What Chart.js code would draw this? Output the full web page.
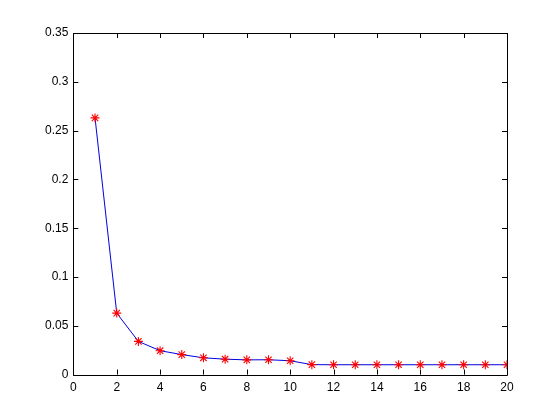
<!DOCTYPE html>
<html>
<head>
<meta charset="utf-8">
<script src="https://cdn.jsdelivr.net/npm/chart.js@4/dist/chart.umd.min.js"></script>
<style>
  html, body { margin: 0; padding: 0; background: #fff; }
  #wrap { width: 560px; height: 420px; }
</style>
</head>
<body>
<div id="wrap"><canvas id="myChart" width="560" height="420"></canvas></div>
<script>
// data
var xValues = [1, 2, 3, 4, 5, 6, 7, 8, 9, 10, 11, 12, 13, 14, 15, 16, 17, 18, 19, 20];
var yValues = [0.263, 0.063, 0.034, 0.0245, 0.0205, 0.0172, 0.0158, 0.0151, 0.0152, 0.0142,
               0.0102, 0.0101, 0.0101, 0.0101, 0.0101, 0.0101, 0.0101, 0.0101, 0.0101, 0.0101];
var xTicks = [0, 2, 4, 6, 8, 10, 12, 14, 16, 18, 20];
var yTicks = [0, 0.05, 0.1, 0.15, 0.2, 0.25, 0.3, 0.35];

// matlab style box with inward ticks
var boxPlugin = {
    id: 'box',
    afterDraw: function(chart) {
        var ctx = chart.ctx;
        var a = chart.chartArea;
        var xs = chart.scales.x, ys = chart.scales.y;
        var len = 5;
        ctx.save();
        ctx.strokeStyle = '#000';
        ctx.lineWidth = 1;
        ctx.beginPath();
        ctx.rect(Math.round(a.left) + 0.5, Math.round(a.top) + 0.5,
                 Math.round(a.right - a.left), Math.round(a.bottom - a.top));
        xTicks.forEach(function(v) {
            var px = Math.round(xs.getPixelForValue(v)) + 0.5;
            ctx.moveTo(px, a.bottom); ctx.lineTo(px, a.bottom - len);
            ctx.moveTo(px, a.top); ctx.lineTo(px, a.top + len);
        });
        yTicks.forEach(function(v) {
            var py = Math.round(ys.getPixelForValue(v)) + 0.5;
            ctx.moveTo(a.left, py); ctx.lineTo(a.left + len, py);
            ctx.moveTo(a.right, py); ctx.lineTo(a.right - len, py);
        });
        ctx.stroke();
        ctx.restore();
    }
};

var bgPlugin = {
    id: 'bg',
    beforeDraw: function(chart) {
        var ctx = chart.ctx;
        ctx.save();
        ctx.fillStyle = '#fff';
        ctx.fillRect(0, 0, chart.width, chart.height);
        ctx.restore();
    }
};

var points = xValues.map(function(x, i) { return { x: x, y: yValues[i] }; });

var ctx = document.getElementById('myChart').getContext('2d');
var myChart = new Chart(ctx, {
    type: 'line',
    data: {
        datasets: [{
            data: points,
            borderColor: '#0000e0',
            borderWidth: 1,
            pointStyle: 'star',
            pointRadius: 4.5,
            pointBorderColor: '#ff0000',
            pointBackgroundColor: '#ff0000',
            pointBorderWidth: 1.1,
            tension: 0
        }]
    },
    options: {
        responsive: false,
        animation: false,
        layout: { padding: { left: 40, top: 33, right: 53, bottom: 19 } },
        plugins: { legend: { display: false }, tooltip: { enabled: false } },
        scales: {
            x: {
                type: 'linear',
                min: 0, max: 20,
                grid: { display: false, drawTicks: false },
                border: { display: false },
                afterBuildTicks: function(s) { s.ticks = xTicks.map(function(v) { return { value: v }; }); },
                ticks: { color: '#000', padding: 6, maxRotation: 0, font: { family: 'Liberation Sans', size: 12 } }
            },
            y: {
                min: 0, max: 0.35,
                grid: { display: false, drawTicks: false },
                border: { display: false },
                afterBuildTicks: function(s) { s.ticks = yTicks.map(function(v) { return { value: v }; }); },
                ticks: { color: '#000', padding: 5, font: { family: 'Liberation Sans', size: 12 },
                         callback: function(v) { return String(v); } }
            }
        }
    },
    plugins: [bgPlugin, boxPlugin]
});
</script>
</body>
</html>
